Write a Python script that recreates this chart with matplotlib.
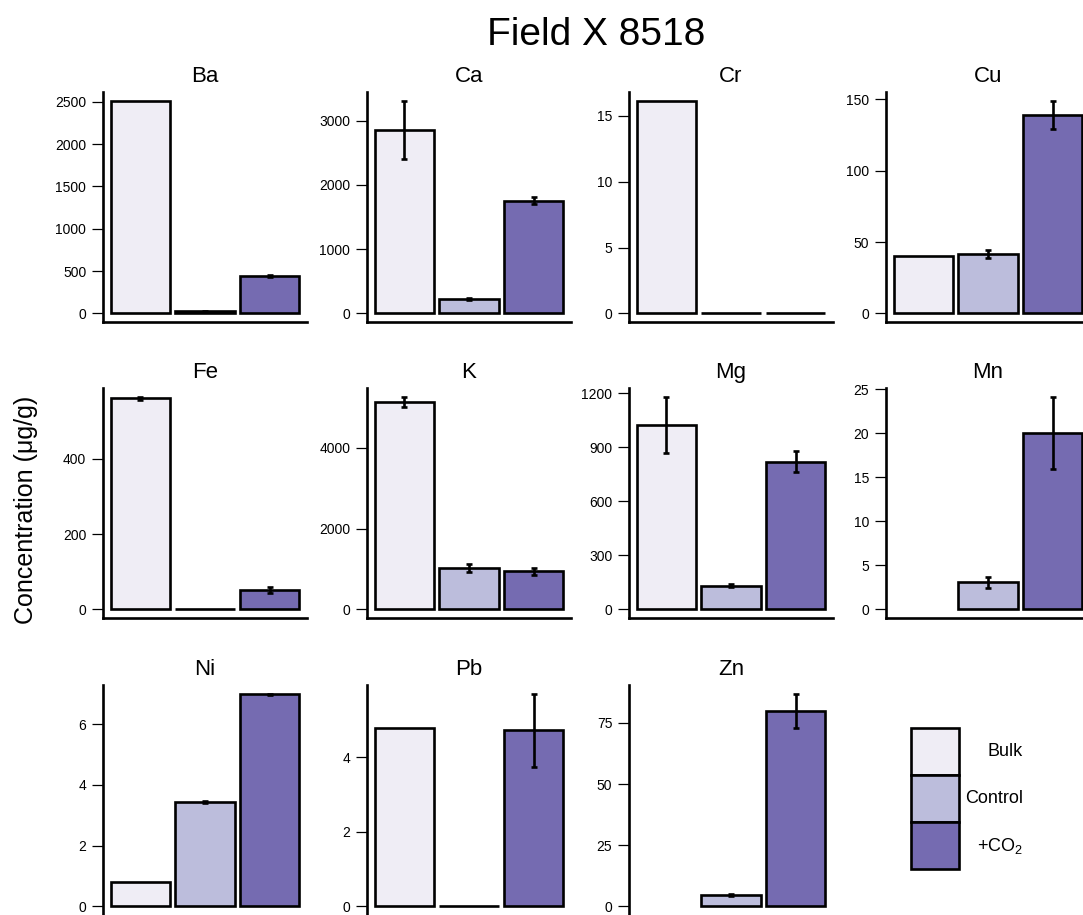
import numpy as np
import matplotlib
matplotlib.use("Agg")
import matplotlib.pyplot as plt

plt.rcParams['font.family'] = ['Liberation Sans', 'DejaVu Sans']
plt.rcParams['mathtext.default'] = 'regular'

nan = np.nan

# values (ug/g), NaN = no bar
elements = ['Ba', 'Ca', 'Cr', 'Cu', 'Fe', 'K', 'Mg', 'Mn', 'Ni', 'Pb', 'Zn']
bulk = [2515, 2858, 16.15, 40.0, 560, 5140, 1026, nan, 0.79, 4.79, nan]
bulk_err = [0, 456, 0, 0, 5, 135, 156, nan, 0, 0, nan]
control = [25, 226, 0, 41.5, 0, 1030, 133, 3.1, 3.44, 0, 4.5]
control_err = [5, 10, 0, 3, 0, 95, 8, 0.63, 0.03, 0, 0.4]
co2 = [440, 1755, 0, 139, 52, 950, 821, 20.1, 6.98, 4.72, 80]
co2_err = [12, 55, 0, 10, 7, 85, 56, 4.1, 0.03, 0.98, 7]

yticks = [
    [0, 500, 1000, 1500, 2000, 2500],
    [0, 1000, 2000, 3000],
    [0, 5, 10, 15],
    [0, 50, 100, 150],
    [0, 200, 400],
    [0, 2000, 4000],
    [0, 300, 600, 900, 1200],
    [0, 5, 10, 15, 20, 25],
    [0, 2, 4, 6],
    [0, 2, 4],
    [0, 25, 50, 75],
]

groups = ['Bulk', 'Control', '+CO$_2$']
colors = ['#efedf5', '#bcbddc', '#756bb1']

W, H = 1083, 915
fig = plt.figure(figsize=(W / 100, H / 100), dpi=100)


def px_axes(x, y, w, h):
    return fig.add_axes([x / W, 1 - (y + h) / H, w / W, h / H])


col_left = [103, 367, 629, 886]
row_top = [92, 388, 685]
pw, ph = 204, 230

xpos = np.array([0.6, 1.7, 2.8])
lw = 1.9

for i, el in enumerate(elements):
    r, c = divmod(i, 4)
    ax = px_axes(col_left[c], row_top[r], pw, ph)
    vals = np.array([bulk[i], control[i], co2[i]], dtype=float)
    errs = np.array([bulk_err[i], control_err[i], co2_err[i]], dtype=float)
    for k in range(3):
        if np.isnan(vals[k]):
            continue
        ax.bar(xpos[k], vals[k], width=1.0, color=colors[k],
               edgecolor='black', linewidth=lw, zorder=2)
        if errs[k] > 0:
            ax.errorbar(xpos[k], vals[k], yerr=errs[k], fmt='none',
                        ecolor='black', elinewidth=lw, capsize=2.5,
                        capthick=lw, zorder=3)
    M = np.nanmax(vals + np.nan_to_num(errs))
    ax.set_ylim(-0.04 * M, 1.04 * M)
    ax.set_xlim(-0.028, 3.428)
    ax.set_yticks(yticks[i])
    ax.set_xticks([])
    ax.tick_params(axis='y', direction='out', length=8, width=0.9,
                   pad=4, labelsize=10)
    for s in ['top', 'right']:
        ax.spines[s].set_visible(False)
    for s in ['left', 'bottom']:
        ax.spines[s].set_linewidth(lw)
        ax.spines[s].set_capstyle('projecting')
    if r == 2:
        ax.spines['bottom'].set_visible(False)
    ax.set_title(el, fontsize=16, pad=7)

# legend: stacked boxes
lax = px_axes(911, 728, 48, 141)
lax.set_xlim(0, 1)
lax.set_ylim(0, 3)
lax.axis('off')
for k, (g, col) in enumerate(zip(groups, colors)):
    lax.bar(0.5, 1, bottom=2 - k, width=1, color=col, edgecolor='black',
            linewidth=lw, clip_on=False)
    lax.text(2.33, 2.5 - k, g, ha='right', va='center', fontsize=13)

fig.text(596 / W, 1 - 45 / H, 'Field X 8518', ha='center', va='baseline',
         fontsize=28)
fig.text(26 / W, 1 - 510 / H, 'Concentration (\u03bcg/g)', rotation=90,
         ha='center', va='center', fontsize=18)

fig.savefig('out.png', dpi=100)
